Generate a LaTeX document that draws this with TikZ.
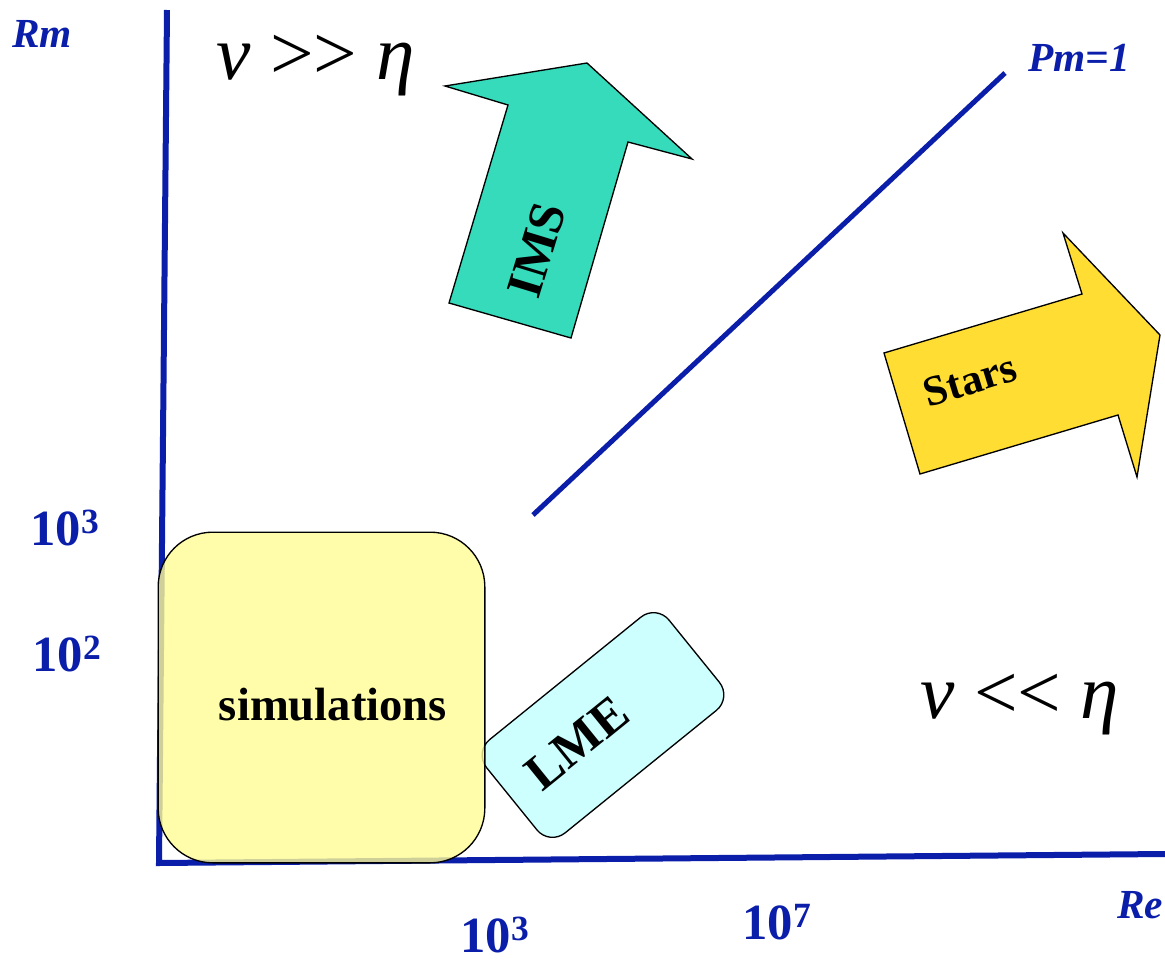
\documentclass[tikz,border=0pt]{standalone}
\usepackage{fontspec}
\setmainfont{Liberation Serif}
\usetikzlibrary{positioning}
\definecolor{axisblue}{HTML}{0A1EAA}
\definecolor{imsgreen}{HTML}{35DBBB}
\definecolor{starsyellow}{HTML}{FFDD33}
\definecolor{lmecyan}{HTML}{C4FFFF}
\definecolor{simyellow}{HTML}{FFFC95}

\begin{document}
\begin{tikzpicture}[x=0.75pt,y=-0.75pt,
  axislabel/.style={text=axisblue,font=\fontsize{31}{33}\selectfont\bfseries\itshape},
  ticklabel/.style={text=axisblue,inner sep=0pt,font=\fontsize{38}{40}\selectfont\bfseries},
  regime/.style={font=\fontsize{58}{60}\selectfont},
  boxtext/.style={inner sep=0pt,font=\fontsize{35}{37}\selectfont\bfseries},
  arrowshape/.style={draw=black,line width=1pt,line join=miter}]
  \useasboundingbox (0,0) rectangle (1165,960);
  % axes
  \coordinate (origin) at (159,863);
  \coordinate (rmend) at (167,10);
  \coordinate (reend) at (1165,854);
  \draw[axisblue,line width=4.5pt] (rmend) -- (origin) -- (reend);
  \node[axislabel] (rm) at (42,34) {Rm};
  \node[axislabel] (re) at (1140,905) {Re};
  \node[ticklabel] (rmthree) at (65,528) {10\textsuperscript{3}};
  \node[ticklabel] (rmtwo) at (67,654) {10\textsuperscript{2}};
  \node[ticklabel] (rethree) at (495,935) {10\textsuperscript{3}};
  \node[ticklabel] (reseven) at (777,922) {10\textsuperscript{7}};
  % Pm=1 line
  \coordinate (pmlow) at (533,515);
  \coordinate (pmhigh) at (1005,73);
  \draw[axisblue,line width=3.75pt] (pmlow) -- (pmhigh);
  \node[axislabel] (pm) at (1079,58) {Pm=1};
  % regimes
  \node[regime] (viscous) at (316,66) {\textit{ν} >{}> \textit{η}};
  \node[regime] (resistive) at (1020,705) {\textit{ν} <{}< \textit{η}};
  % arrows
  \draw[arrowshape,fill=imsgreen] (587,63) -- (692,159) -- (628,142) -- (571,338)
    -- (449,303) -- (508,105) -- (445,86) -- cycle;
  \node[boxtext,rotate=73,font=\fontsize{38}{40}\selectfont\bfseries] (ims) at (537,250) {IMS};
  \draw[arrowshape,fill=starsyellow] (884,353) -- (1082,294) -- (1063,233) -- (1160,335)
    -- (1137,477) -- (1118,415) -- (920,474) -- cycle;
  \node[boxtext,rotate=17,font=\fontsize{32}{34}\selectfont\bfseries] (stars) at (970,380) {Stars};
  % boxes
  \node[draw,line width=1pt,rounded corners=15pt,fill=lmecyan,fill opacity=.85,
    minimum width=176pt,minimum height=90pt,rotate=39] (lme) at (603,725) {};
  \node[boxtext,rotate=39,font=\fontsize{38}{40}\selectfont\bfseries] (lmetext) at (577,743) {LME};
  \node[draw,line width=1pt,rounded corners=41pt,fill=simyellow,fill opacity=.8,
    minimum width=245pt,minimum height=248pt] (sims) at (321.5,697.5) {};
  \node[boxtext] (simtext) at (333,705) {simulations};
\end{tikzpicture}
\end{document}
